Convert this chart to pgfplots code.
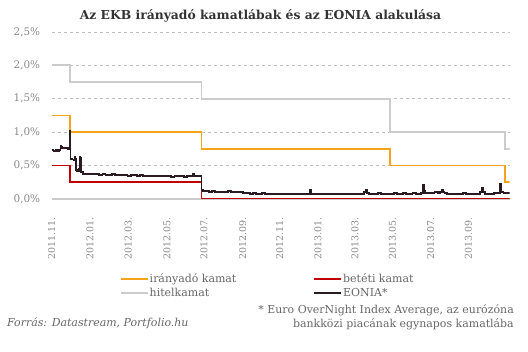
\documentclass[border=0pt]{standalone}
\usepackage{fontspec}
\setmainfont{DejaVu Serif}
\usepackage{pgfplots}
\pgfplotsset{compat=1.18}
\definecolor{cOrange}{HTML}{F5A31A}
\definecolor{cRed}{HTML}{C00000}
\definecolor{cGray}{HTML}{CCCCCC}
\definecolor{cDark}{HTML}{2A1A22}
\definecolor{cText}{HTML}{666666}
\definecolor{cTick}{HTML}{8A8A8A}
\definecolor{cGrid}{HTML}{BEBEBE}
\begin{document}
\begin{tikzpicture}
\useasboundingbox (0bp,0bp) rectangle (528bp,352bp);
\node[inner sep=0pt, font=\bfseries\fontsize{12.4}{14}\selectfont, text=black!80] at (260.5bp,336.5bp) {Az EKB irányadó kamatlábak és az EONIA alakulása};
\begin{axis}[
  at={(51.7bp,153bp)}, anchor=south west,
  scale only axis, width=458bp, height=167bp,
  xmin=14, xmax=745, ymin=0, ymax=2.5,
  axis line style={draw=none},
  major tick length=0pt,
  ytick={0,0.5,1,1.5,2,2.5},
  ymajorgrids,
  grid style={dash pattern=on 3bp off 3bp, draw=cGrid, line width=0.8bp},
  extra y ticks={0}, extra y tick labels={},
  extra y tick style={grid style={solid, draw=cGray, line width=1.2bp}},
  /pgf/number format/assume math mode=true,
  yticklabel={\pgfmathprintnumber[fixed,fixed zerofill,precision=1,use comma]{\tick}\%},
  yticklabel style={font=\fontsize{10.5}{12}\selectfont, text=cTick},
  yticklabel shift=8bp,
  xtick={14,75,136,198,257,319,378,439,498,558,619,679},
  xticklabels={2011.11.,2012.01.,2012.03.,2012.05.,2012.07.,2012.09.,2012.11.,2013.01.,2013.03.,2013.05.,2013.07.,2013.09.},
  xticklabel style={rotate=90, anchor=east, font=\fontsize{9.5}{11}\selectfont, text=cTick},
  xticklabel shift=15bp,
  legend columns=2,
  legend cell align=left,
  legend style={at={(0.149,-0.44)}, anchor=north west, draw=none, fill=none,
    inner sep=0pt, outer sep=0pt, nodes={inner sep=1bp}, row sep=2.5bp,
    font=\fontsize{11}{12}\selectfont, text=cText,
    /tikz/every even column/.append style={column sep=76bp}},
  legend image code/.code={\draw[#1] (0bp,0bp) -- (27bp,0bp);},
  every axis plot/.append style={line width=1.8bp},
]
\addplot[cOrange, const plot] coordinates {(14,1.25)(43,1.00)(253,0.75)(554,0.50)(738,0.25)(745,0.25)};
\addlegendentry{irányadó kamat}
\addplot[cRed, const plot] coordinates {(14,0.5)(43,0.25)(253,0)(745,0)};
\addlegendentry{betéti kamat}
\addplot[cGray, const plot] coordinates {(14,2.0)(43,1.75)(253,1.5)(554,1.0)(738,0.75)(745,0.75)};
\addlegendentry{hitelkamat}
\addplot[cDark, const plot] coordinates {
(14,0.73)(17,0.72)(20,0.73)(23,0.72)(26,0.73)(28,0.80)(29,0.78)(31,0.76)(34,0.76)(37,0.77)(40,0.75)(42,0.74)
(43,1.02)(44,0.60)(47,0.59)(50,0.58)(51,0.63)(52,0.60)(53,0.43)(55,0.42)(57,0.42)(58,0.45)(59,0.63)(60,0.62)
(61,0.41)(63,0.40)(64,0.37)(68,0.37)(72,0.38)(76,0.37)(80,0.37)(85,0.37)(90,0.36)(95,0.37)(100,0.36)(105,0.36)
(110,0.37)(115,0.36)(120,0.36)(125,0.36)(130,0.36)(135,0.35)(140,0.36)(145,0.36)(150,0.35)(155,0.36)(160,0.35)
(165,0.35)(170,0.35)(175,0.34)(180,0.35)(185,0.34)(190,0.34)(195,0.34)(200,0.34)(205,0.33)(210,0.34)(215,0.34)
(220,0.34)(225,0.33)(230,0.34)(235,0.34)(238,0.35)(239,0.38)(240,0.37)(242,0.35)(246,0.35)(250,0.35)(252,0.35)
(253,0.13)(255,0.12)(260,0.12)(265,0.11)(270,0.12)(275,0.11)(280,0.11)(285,0.11)(290,0.11)(295,0.12)(300,0.11)
(305,0.11)(310,0.11)(315,0.10)(319,0.09)(325,0.09)(330,0.08)(335,0.09)(340,0.08)(345,0.08)(350,0.09)(355,0.08)
(360,0.07)(365,0.08)(370,0.07)(375,0.07)(380,0.08)(385,0.07)(390,0.07)(395,0.07)(400,0.08)(405,0.07)(410,0.07)
(415,0.07)(420,0.08)(424,0.08)(426,0.13)(428,0.08)(432,0.07)(436,0.07)(440,0.08)(445,0.07)(450,0.07)(455,0.07)
(460,0.07)(465,0.08)(470,0.07)(475,0.07)(480,0.07)(485,0.08)(490,0.07)(495,0.07)(500,0.07)(505,0.07)(510,0.08)
(513,0.10)(515,0.13)(517,0.09)(520,0.08)(525,0.08)(530,0.08)(535,0.09)(540,0.08)(545,0.08)(550,0.08)(555,0.08)
(560,0.09)(565,0.08)(570,0.08)(575,0.09)(580,0.08)(585,0.08)(590,0.09)(595,0.08)(600,0.08)(604,0.09)(606,0.21)
(608,0.12)(610,0.09)(615,0.09)(620,0.09)(625,0.10)(630,0.09)(634,0.10)(636,0.14)(638,0.10)(641,0.09)(645,0.08)
(650,0.08)(655,0.08)(660,0.08)(665,0.08)(670,0.09)(675,0.08)(680,0.08)(685,0.08)(690,0.08)(695,0.08)(698,0.10)
(700,0.17)(702,0.10)(705,0.08)(710,0.08)(715,0.08)(720,0.09)(725,0.09)(728,0.09)(730,0.22)(732,0.10)(735,0.09)
(740,0.09)(745,0.09)};
\addlegendentry{EONIA*}
\end{axis}
\node[inner sep=0pt, anchor=east, font=\fontsize{11}{13}\selectfont, text=cText] at (514bp,42bp) {* Euro OverNight Index Average, az eurózóna};
\node[inner sep=0pt, anchor=east, font=\fontsize{11}{13}\selectfont, text=cText] at (514bp,28bp) {bankközi piacának egynapos kamatlába};
\node[inner sep=0pt, anchor=west, font=\itshape\fontsize{11}{13}\selectfont, text=cText] at (7bp,29bp) {Forrás: Datastream, Portfolio.hu};
\end{tikzpicture}
\end{document}
